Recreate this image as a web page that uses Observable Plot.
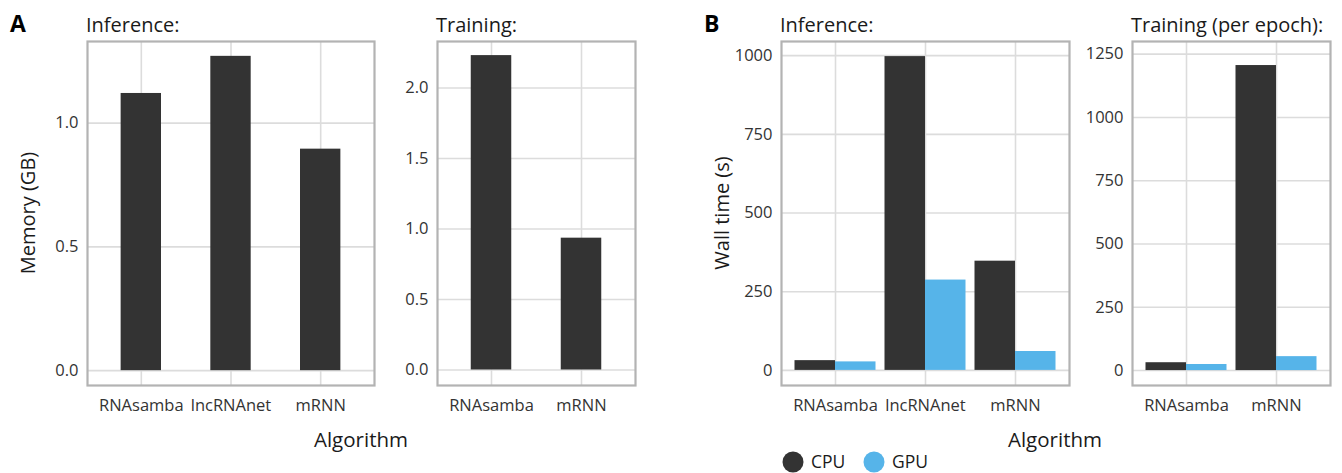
<!DOCTYPE html>
<html><head><meta charset="utf-8">
<script src="https://cdn.jsdelivr.net/npm/d3@7"></script>
<script src="https://cdn.jsdelivr.net/npm/@observablehq/plot@0.6"></script>
<style>
body{margin:0;background:#fff;}
#wrap{position:relative;width:1342px;height:473px;overflow:hidden;font-family:"Open Sans",sans-serif;background:#fff;}
#wrap > svg{position:absolute;top:0;}
</style></head><body><div id="wrap"></div>
<script>
// ---- data ----
const memInfAlgorithms = ["RNAsamba", "lncRNAnet", "mRNN"];
const memInfValues = [1.12, 1.27, 0.895];
const memTrainAlgorithms = ["RNAsamba", "mRNN"];
const memTrainValues = [2.23, 0.935];
const timeInfAlgorithms = ["RNAsamba", "lncRNAnet", "mRNN"];
const timeInfCPU = [31, 997, 347];
const timeInfGPU = [27, 287, 60];
const timeTrainAlgorithms = ["RNAsamba", "mRNN"];
const timeTrainCPU = [31, 1205];
const timeTrainGPU = [24, 55];
const devices = ["CPU", "GPU"];
const memInfTicks = [0, 0.5, 1.0];
const memTrainTicks = [0, 0.5, 1.0, 1.5, 2.0];
const timeInfTicks = [0, 250, 500, 750, 1000];
const timeTrainTicks = [0, 250, 500, 750, 1000, 1250];
const deviceColors = ["#333333", "#56B4E9"];

const rows = (cats, vals) => cats.map((c, i) => ({algorithm: c, value: vals[i]}));

const wrap = document.getElementById("wrap");
const FRAME_TOP = 41, FRAME_BOTTOM = 385, H = 473;

function panel({svgLeft, frameLeft, frameRight, cats, yDomain, yTicks, yFormat, series}) {
  const marginLeft = frameLeft - svgLeft, marginRight = 6;
  const width = frameRight + marginRight - svgLeft;
  const frameW = frameRight - frameLeft;
  const step = frameW / (cats.length + 0.2);
  const dodge = series.length > 1;
  const inset = dodge ? step * 0.9 / 2 : 0;
  const marks = [
    Plot.gridX({stroke: "#dcdcdc", strokeOpacity: 1, strokeWidth: 1.6}),
    Plot.gridY(yTicks, {stroke: "#dcdcdc", strokeOpacity: 1, strokeWidth: 1.6})
  ];
  series.forEach((s, k) => {
    marks.push(Plot.barY(s.rows, {
      x: "algorithm", y: "value", fill: s.color,
      insetLeft: dodge && k === 1 ? inset : 0,
      insetRight: dodge && k === 0 ? inset : 0
    }));
  });
  marks.push(Plot.frame({stroke: "#b3b3b3", strokeWidth: 2.2}));
  marks.push(Plot.axisY(yTicks, {tickSize: 0, tickPadding: 9, tickFormat: yFormat, fontSize: 16.5, label: null}));
  marks.push(Plot.axisX({tickSize: 0, tickPadding: 14, fontSize: 16.5, label: null}));
  const svg = Plot.plot({
    width, height: H,
    marginTop: FRAME_TOP, marginBottom: H - FRAME_BOTTOM, marginLeft, marginRight,
    style: {fontFamily: "'Open Sans', sans-serif", color: "#333333", background: "transparent", overflow: "visible"},
    x: {domain: cats, type: "band", paddingInner: dodge ? 0.1 : 0.55, paddingOuter: dodge ? 0.15 : 0.375, align: 0.5, round: false, label: null},
    y: {domain: yDomain, nice: false, zero: false, label: null},
    marks
  });
  svg.style.left = svgLeft + "px";
  wrap.appendChild(svg);
}

panel({svgLeft: 40, frameLeft: 87, frameRight: 374, cats: memInfAlgorithms,
  yDomain: [-0.06, 1.33], yTicks: memInfTicks, yFormat: d3.format(".1f"),
  series: [{rows: rows(memInfAlgorithms, memInfValues), color: deviceColors[0]}]});
panel({svgLeft: 385, frameLeft: 437, frameRight: 635, cats: memTrainAlgorithms,
  yDomain: [-0.11, 2.33], yTicks: memTrainTicks, yFormat: d3.format(".1f"),
  series: [{rows: rows(memTrainAlgorithms, memTrainValues), color: deviceColors[0]}]});
panel({svgLeft: 735, frameLeft: 781, frameRight: 1069, cats: timeInfAlgorithms,
  yDomain: [-48, 1045], yTicks: timeInfTicks, yFormat: d3.format("d"),
  series: [{rows: rows(timeInfAlgorithms, timeInfCPU), color: deviceColors[0]},
           {rows: rows(timeInfAlgorithms, timeInfGPU), color: deviceColors[1]}]});
panel({svgLeft: 1075, frameLeft: 1132, frameRight: 1330, cats: timeTrainAlgorithms,
  yDomain: [-59, 1300], yTicks: timeTrainTicks, yFormat: d3.format("d"),
  series: [{rows: rows(timeTrainAlgorithms, timeTrainCPU), color: deviceColors[0]},
           {rows: rows(timeTrainAlgorithms, timeTrainGPU), color: deviceColors[1]}]});

// ---- overlay text: panel tags, strip titles, axis titles, legend ----
const ov = d3.select(wrap).append("svg")
  .attr("width", 1342).attr("height", H)
  .style("left", "0px").style("pointer-events", "none")
  .style("font-family", "'Open Sans', sans-serif");
const txt = (x, y, s, size, opts = {}) => ov.append("text")
  .attr("x", x).attr("y", y).text(s)
  .attr("font-size", size).attr("fill", opts.fill || "#1a1a1a")
  .attr("font-weight", opts.weight || "normal")
  .attr("text-anchor", opts.anchor || "start")
  .attr("transform", opts.rotate ? `rotate(-90 ${x} ${y})` : null);

txt(10, 32, "A", 23, {weight: "bold", fill: "#000"});
txt(704, 32, "B", 23, {weight: "bold", fill: "#000"});
txt(86, 32, "Inference:", 20);
txt(436, 32, "Training:", 20);
txt(780, 32, "Inference:", 20);
txt(1131, 32, "Training (per epoch):", 20);
txt(35, 213, "Memory (GB)", 20, {anchor: "middle", rotate: true});
txt(729, 213, "Wall time (s)", 20, {anchor: "middle", rotate: true});
txt(361, 447, "Algorithm", 20.5, {anchor: "middle"});
txt(1055, 447, "Algorithm", 20.5, {anchor: "middle"});

const legendX = [793, 874];
devices.forEach((d, i) => {
  ov.append("circle").attr("cx", legendX[i]).attr("cy", 462).attr("r", 10.5).attr("fill", deviceColors[i]);
  txt(legendX[i] + 18, 468, d, 17.5);
});
</script></body></html>
